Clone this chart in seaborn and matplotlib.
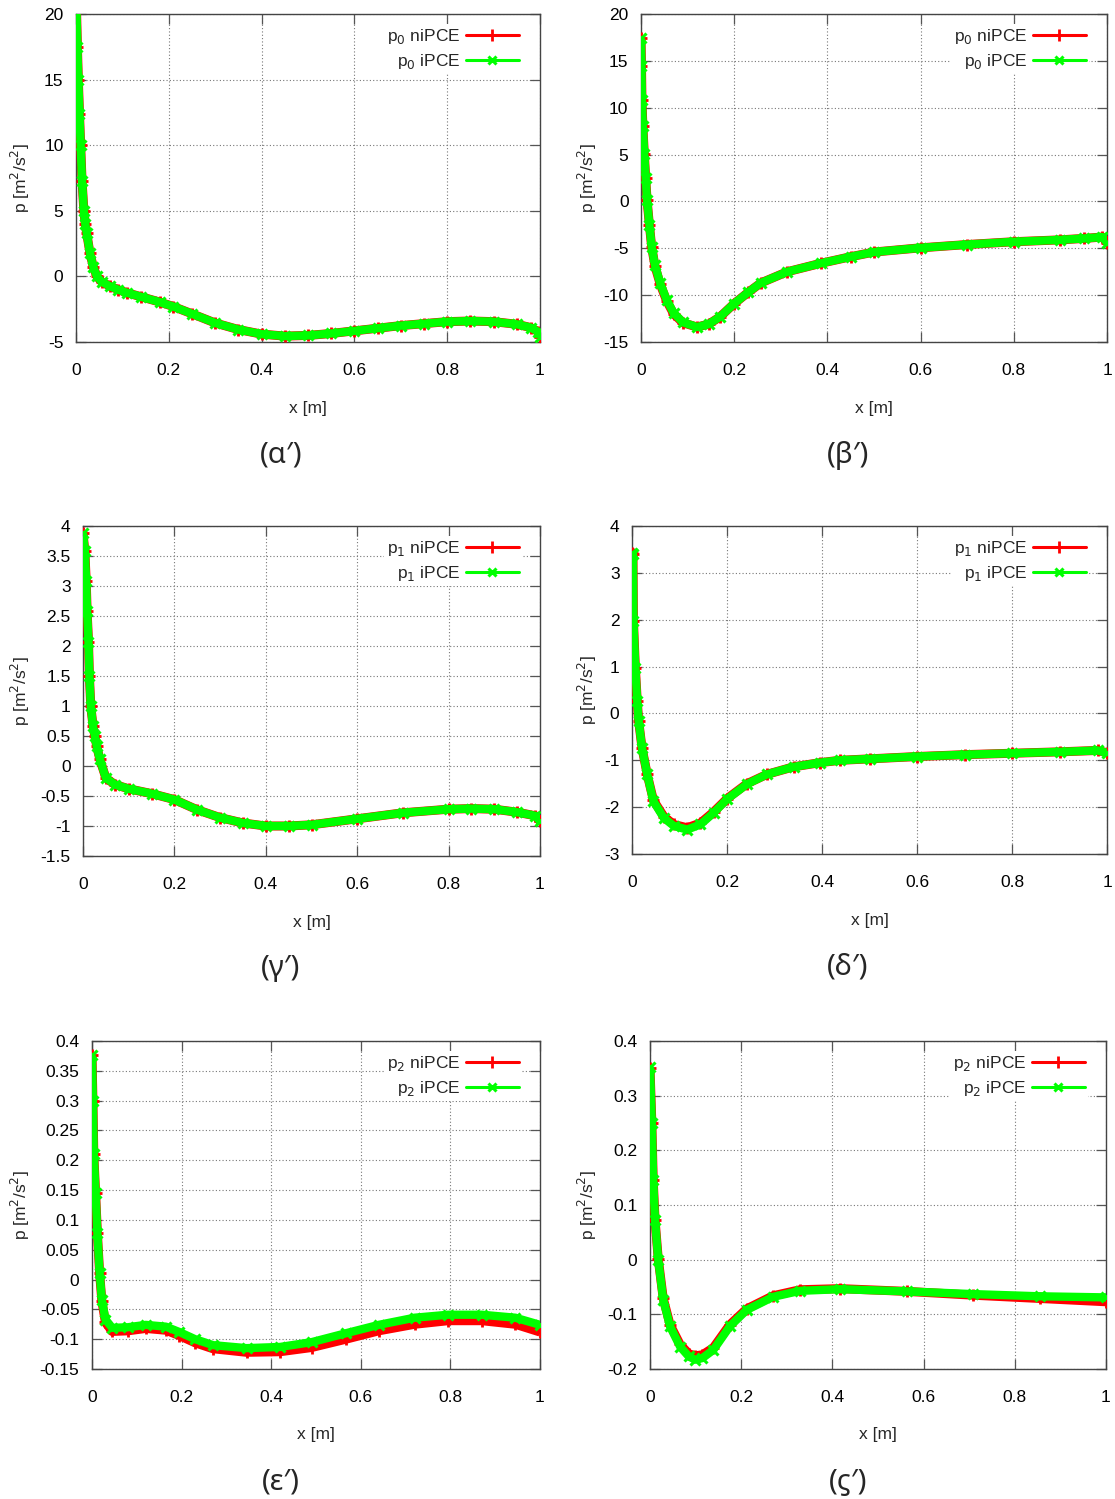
import numpy as np
import pandas as pd
import matplotlib
matplotlib.use("Agg")
import matplotlib.pyplot as plt
from matplotlib.lines import Line2D
import seaborn as sns

sns.set_theme(style="ticks")
plt.rcParams['font.family'] = ['Liberation Sans', 'DejaVu Sans']

# ---------------- data ----------------
# panel (α') p0
x_a = [0.001, 0.003, 0.005, 0.0075, 0.01, 0.013, 0.017, 0.02, 0.023, 0.03, 0.037, 0.045,
       0.055, 0.073, 0.09, 0.11, 0.14, 0.18, 0.21, 0.25, 0.3, 0.35, 0.4, 0.45, 0.5, 0.55,
       0.6, 0.65, 0.7, 0.75, 0.8, 0.85, 0.9, 0.95, 0.98, 0.995, 1.0]
p0a_ni = [20.5, 17.5, 15.0, 12.4, 10.0, 7.3, 5.0, 4.0, 3.3, 1.8, 0.75, 0.0,
          -0.4, -0.75, -1.0, -1.25, -1.55, -1.95, -2.3, -2.85, -3.55, -4.05, -4.4, -4.55,
          -4.5, -4.35, -4.15, -3.95, -3.75, -3.6, -3.45, -3.4, -3.45, -3.65, -3.9, -4.2, -4.6]
p0a_i = [20.5, 17.5, 15.0, 12.4, 10.0, 7.3, 5.0, 4.0, 3.3, 1.8, 0.75, 0.0,
         -0.4, -0.75, -1.0, -1.25, -1.55, -1.95, -2.3, -2.85, -3.55, -4.05, -4.4, -4.55,
         -4.5, -4.35, -4.15, -3.95, -3.75, -3.6, -3.45, -3.4, -3.45, -3.65, -3.9, -4.2, -4.6]

# panel (β') p0
x_b = [0.0, 0.001, 0.002, 0.004, 0.007, 0.01, 0.013, 0.018, 0.023, 0.03, 0.041, 0.055,
       0.07, 0.09, 0.12, 0.145, 0.17, 0.2, 0.23, 0.257, 0.314, 0.386, 0.45, 0.5, 0.6,
       0.7, 0.8, 0.9, 0.95, 0.99, 1.0]
p0b_ni = [17.4, 14.5, 10.8, 8.0, 5.1, 2.5, 0.15, -2.5, -4.9, -6.9, -8.8, -10.6,
          -12.0, -12.95, -13.4, -13.1, -12.3, -10.9, -9.7, -8.7, -7.5, -6.6, -5.9, -5.4, -4.95,
          -4.6, -4.3, -4.1, -3.95, -3.8, -4.4]
p0b_i = [17.4, 14.5, 10.8, 8.0, 5.1, 2.5, 0.15, -2.5, -4.9, -6.8, -8.7, -10.5,
         -11.9, -12.9, -13.4, -13.1, -12.3, -10.9, -9.7, -8.7, -7.5, -6.6, -5.9, -5.4, -4.95,
         -4.6, -4.3, -4.1, -3.95, -3.8, -4.4]

# panel (γ') p1
x_c = [0.0, 0.004, 0.007, 0.009, 0.012, 0.014, 0.017, 0.022, 0.026, 0.03, 0.037, 0.05,
       0.07, 0.1, 0.15, 0.2, 0.25, 0.3, 0.35, 0.4, 0.45, 0.5, 0.6, 0.7, 0.8, 0.85, 0.9,
       0.95, 0.99, 1.0]
p1c_ni = [3.88, 3.58, 3.08, 2.58, 2.07, 1.5, 1.0, 0.66, 0.5, 0.33, 0.11, -0.2,
          -0.31, -0.38, -0.46, -0.56, -0.73, -0.86, -0.95, -1.0, -1.0, -0.98, -0.88, -0.78,
          -0.72, -0.71, -0.72, -0.77, -0.83, -0.92]
p1c_i = [3.88, 3.58, 3.08, 2.58, 2.07, 1.5, 1.0, 0.66, 0.5, 0.33, 0.11, -0.2,
         -0.31, -0.38, -0.46, -0.56, -0.73, -0.86, -0.95, -1.0, -1.0, -0.98, -0.88, -0.78,
         -0.72, -0.71, -0.72, -0.77, -0.83, -0.92]

# panel (δ') p1
x_d = [0.0, 0.002, 0.003, 0.007, 0.011, 0.014, 0.021, 0.032, 0.045, 0.067, 0.088, 0.116,
       0.144, 0.172, 0.2, 0.242, 0.284, 0.34, 0.396, 0.438, 0.5, 0.6, 0.7, 0.8, 0.9,
       0.98, 1.0]
p1d_ni = [3.42, 3.41, 1.98, 0.98, 0.27, -0.16, -0.73, -1.3, -1.85, -2.2, -2.37, -2.44,
          -2.34, -2.1, -1.82, -1.5, -1.3, -1.14, -1.05, -1.0, -0.97, -0.92, -0.88, -0.85,
          -0.82, -0.79, -0.84]
p1d_i = [3.42, 3.41, 1.98, 0.98, 0.27, -0.16, -0.73, -1.3, -1.87, -2.23, -2.4, -2.48,
         -2.37, -2.12, -1.83, -1.51, -1.3, -1.14, -1.05, -1.0, -0.97, -0.92, -0.88, -0.85,
         -0.82, -0.79, -0.84]

# panel (ε') p2
x_e = [0.0, 0.002, 0.004, 0.008, 0.012, 0.017, 0.022, 0.03, 0.045, 0.08, 0.12, 0.165,
       0.195, 0.23, 0.27, 0.345, 0.42, 0.49, 0.567, 0.64, 0.72, 0.795, 0.87, 0.945, 1.0]
p2e_ni = [0.376, 0.30, 0.21, 0.145, 0.078, 0.011, -0.036, -0.072, -0.087, -0.086, -0.082,
          -0.085, -0.094, -0.106, -0.116, -0.122, -0.121, -0.114, -0.1, -0.086, -0.075,
          -0.069, -0.069, -0.075, -0.088]
p2e_i = [0.376, 0.30, 0.21, 0.145, 0.078, 0.011, -0.034, -0.067, -0.081, -0.08, -0.076,
         -0.079, -0.088, -0.1, -0.11, -0.115, -0.113, -0.105, -0.09, -0.076, -0.064,
         -0.059, -0.059, -0.064, -0.076]

# panel (ϛ') p2
x_f = [0.0, 0.004, 0.007, 0.011, 0.018, 0.029, 0.044, 0.066, 0.085, 0.099, 0.115, 0.139,
       0.175, 0.212, 0.27, 0.329, 0.417, 0.563, 0.709, 0.855, 1.0]
p2f_ni = [0.35, 0.25, 0.146, 0.073, 0.002, -0.071, -0.119, -0.155, -0.172, -0.176, -0.174,
          -0.161, -0.119, -0.09, -0.066, -0.055, -0.053, -0.058, -0.065, -0.071, -0.077]
p2f_i = [0.353, 0.25, 0.146, 0.073, 0.0, -0.073, -0.122, -0.159, -0.177, -0.183, -0.18,
         -0.165, -0.122, -0.092, -0.068, -0.057, -0.054, -0.058, -0.063, -0.067, -0.069]

panels = [
    dict(x=x_a, ni=p0a_ni, i=p0a_i, idx='0', ylim=(-5, 20), yt=np.arange(-5, 20.1, 5),
         L=76, R=540, T=14, B=342, cap='(α′)'),
    dict(x=x_b, ni=p0b_ni, i=p0b_i, idx='0', ylim=(-15, 20), yt=np.arange(-15, 20.1, 5),
         L=641, R=1107, T=14, B=342, cap='(β′)'),
    dict(x=x_c, ni=p1c_ni, i=p1c_i, idx='1', ylim=(-1.5, 4), yt=np.arange(-1.5, 4.01, 0.5),
         L=83, R=540, T=526, B=856, cap='(γ′)'),
    dict(x=x_d, ni=p1d_ni, i=p1d_i, idx='1', ylim=(-3, 4), yt=np.arange(-3, 4.01, 1),
         L=632, R=1107, T=526, B=854, cap='(δ′)'),
    dict(x=x_e, ni=p2e_ni, i=p2e_i, idx='2', ylim=(-0.15, 0.4), yt=np.arange(-0.15, 0.401, 0.05),
         L=92, R=540, T=1041, B=1369, cap='(ε′)'),
    dict(x=x_f, ni=p2f_ni, i=p2f_i, idx='2', ylim=(-0.2, 0.4), yt=np.arange(-0.2, 0.401, 0.1),
         L=650, R=1106, T=1041, B=1369, cap='(ϛ′)'),
]

W, H = 1115, 1499
fig = plt.figure(figsize=(W / 100, H / 100), dpi=100)
RED = '#ff0000'
GREEN = '#00ff00'

def fmt(v):
    v = round(float(v), 6)
    if abs(v) < 1e-9:
        return '0'
    return ('%g' % v)

for k, p in enumerate(panels):
    ax = fig.add_axes([p['L'] / W, 1 - p['B'] / H, (p['R'] - p['L']) / W, (p['B'] - p['T']) / H])
    df_ni = pd.DataFrame({'x': p['x'], 'p': p['ni']})
    df_i = pd.DataFrame({'x': p['x'], 'p': p['i']})
    sns.lineplot(data=df_ni, x='x', y='p', ax=ax, color=RED, lw=6.5, sort=False,
                 estimator=None, marker='+', markersize=8, markeredgewidth=2,
                 markeredgecolor=RED, zorder=3, solid_capstyle='butt')
    sns.lineplot(data=df_i, x='x', y='p', ax=ax, color=GREEN, lw=6.0, sort=False,
                 estimator=None, marker='x', markersize=7, markeredgewidth=2.2,
                 markeredgecolor=GREEN, zorder=4, solid_capstyle='butt')
    ax.set_xlim(0, 1)
    ax.set_ylim(*p['ylim'])
    xt = np.arange(0, 1.01, 0.2)
    ax.set_xticks(xt)
    ax.set_xticklabels([fmt(v) for v in xt])
    ax.set_yticks(p['yt'])
    ax.set_yticklabels([fmt(v) for v in p['yt']])
    ax.tick_params(direction='in', length=7, width=0.9, color='#555555', labelsize=12.5,
                   top=True, right=True, pad=9, labelcolor='black')
    ax.tick_params(axis='x', pad=15)
    ax.grid(True, linestyle=(0, (1, 2)), color='#777777', linewidth=0.8)
    for s in ax.spines.values():
        s.set_color('#444444')
        s.set_linewidth(1.0)
    ax.set_xlabel('')
    ax.set_ylabel('')

    handles = [Line2D([0], [0], color=RED, lw=2.2, marker='+', markersize=8, markeredgewidth=2),
               Line2D([0], [0], color=GREEN, lw=2.2, marker='x', markersize=6, markeredgewidth=2.2)]
    labels = [f'p$_{p["idx"]}$ niPCE', f'p$_{p["idx"]}$ iPCE']
    width_px = p['R'] - p['L']
    height_px = p['B'] - p['T']
    leg = ax.legend(handles, labels, loc='upper right',
                    bbox_to_anchor=(1 - 18 / width_px, 1 - 10 / height_px),
                    markerfirst=False, handlelength=3.0, handletextpad=0.35, fontsize=12.5,
                    frameon=True, borderpad=0.2, labelspacing=0.3, borderaxespad=0.0)
    leg.get_frame().set_facecolor('white')
    leg.get_frame().set_edgecolor('none')
    leg.get_frame().set_alpha(1)
    leg.set_zorder(5)

    cx = (p['L'] + p['R']) / 2
    row_off = p['B']
    fig.text(cx / W, 1 - (row_off + 66) / H, 'x [m]', ha='center', va='center', fontsize=12.5)
    ylx = 20 if k % 2 == 0 else 587
    fig.text(ylx / W, 1 - ((p['T'] + p['B']) / 2) / H, 'p [m$^2$/s$^2$]', ha='center',
             va='center', rotation=90, fontsize=12.5)
    capx = 281 if k % 2 == 0 else 848
    fig.text(capx / W, 1 - (row_off + 113) / H, p['cap'], ha='center', va='center',
             fontsize=21, family=['Noto Sans', 'DejaVu Sans'])

fig.savefig('out.png', dpi=100)
